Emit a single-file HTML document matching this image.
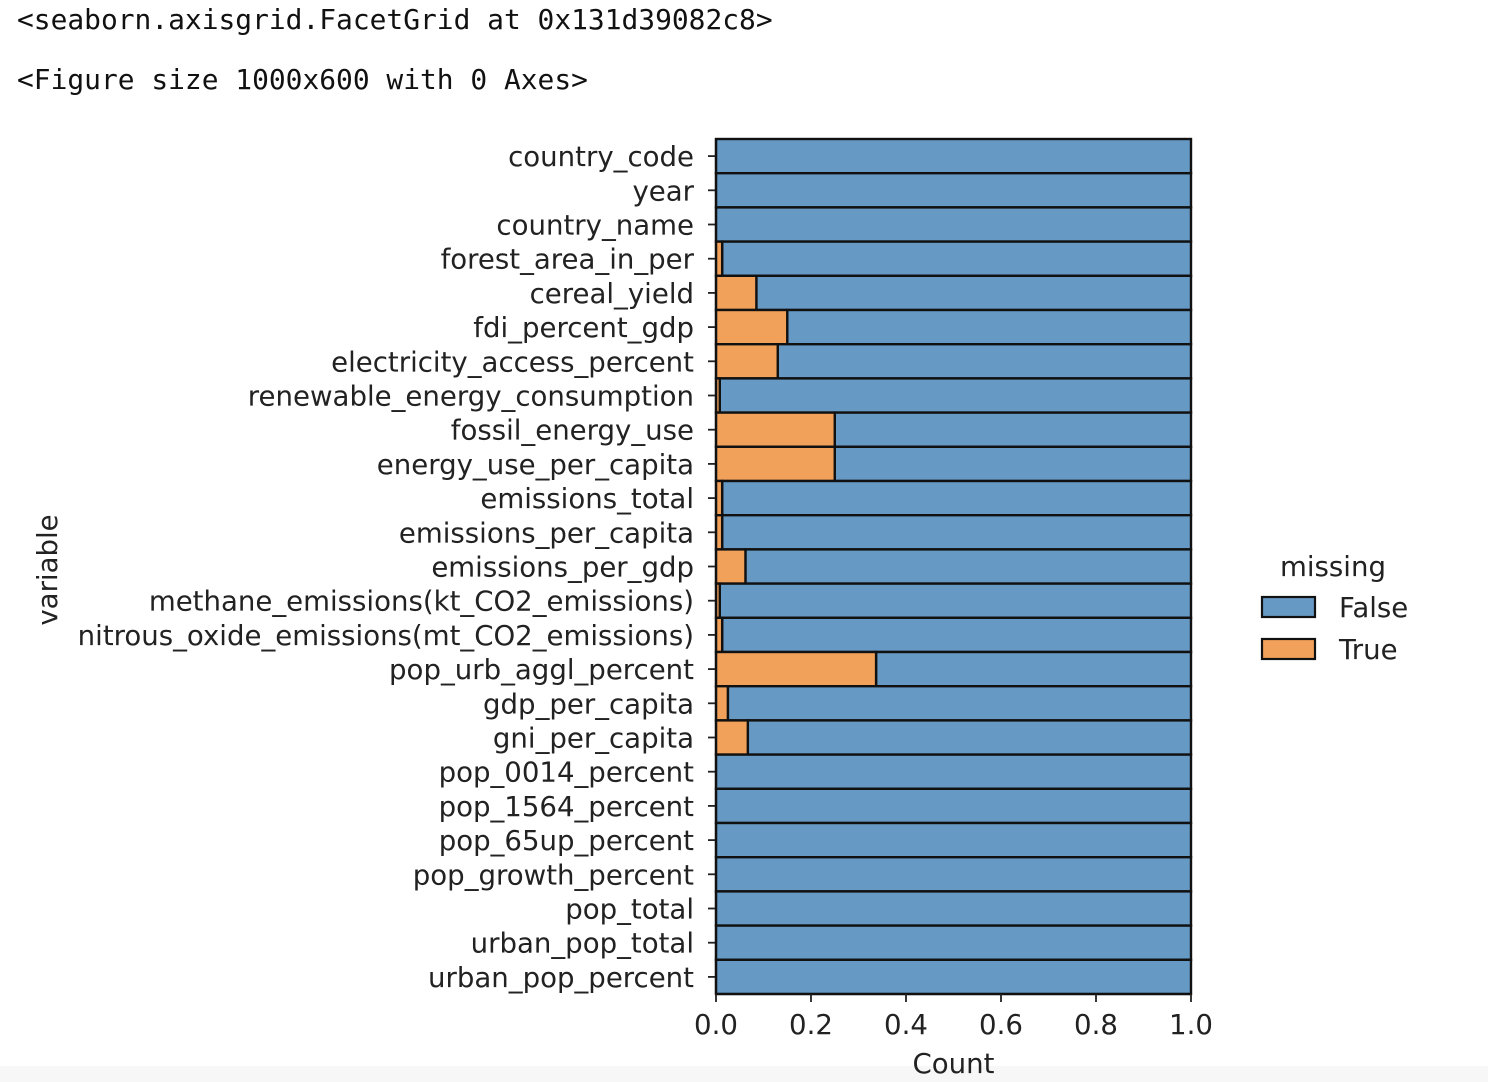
<!DOCTYPE html>
<html><head><meta charset="utf-8"><style>
body{margin:0;background:#fff;width:1488px;height:1082px;overflow:hidden;position:relative}
.mono{position:absolute;left:17px;font-family:"DejaVu Sans Mono","Liberation Mono",monospace;font-size:27.9px;color:#111;white-space:nowrap}
</style></head><body>
<div class="mono" style="top:3px">&lt;seaborn.axisgrid.FacetGrid at 0x131d39082c8&gt;</div>
<div class="mono" style="top:63px">&lt;Figure size 1000x600 with 0 Axes&gt;</div>
<div style="position:absolute;left:0;top:1066px;width:1488px;height:16px;background:#f7f7f7"></div>
<svg id="chart" width="1488" height="1082" style="position:absolute;left:0;top:0" font-family="DejaVu Sans, Liberation Sans, sans-serif"></svg>
<script>
const categories=["country_code","year","country_name","forest_area_in_per","cereal_yield","fdi_percent_gdp","electricity_access_percent","renewable_energy_consumption","fossil_energy_use","energy_use_per_capita","emissions_total","emissions_per_capita","emissions_per_gdp","methane_emissions(kt_CO2_emissions)","nitrous_oxide_emissions(mt_CO2_emissions)","pop_urb_aggl_percent","gdp_per_capita","gni_per_capita","pop_0014_percent","pop_1564_percent","pop_65up_percent","pop_growth_percent","pop_total","urban_pop_total","urban_pop_percent"];
const trueFrac=[0,0,0,0.013,0.085,0.15,0.13,0.008,0.25,0.25,0.013,0.013,0.062,0.008,0.013,0.337,0.025,0.067,0,0,0,0,0,0,0];
const xTicks=[0,0.2,0.4,0.6,0.8,1.0];
const xTickLabels=["0.0","0.2","0.4","0.6","0.8","1.0"];
const svg=document.getElementById('chart');
const NS='http://www.w3.org/2000/svg';
const X0=716,X1=1191,Y0=139,Y1=994;
const rowH=(Y1-Y0)/categories.length;
const x=v=>X0+v*(X1-X0);
const y=i=>Y0+i*rowH;
function mk(t,a){const e=document.createElementNS(NS,t);for(const k in a)e.setAttribute(k,a[k]);svg.appendChild(e);return e;}
categories.forEach((c,i)=>{
  const f=trueFrac[i];
  const b=mk('rect',{x:x(f),y:y(i),width:x(1)-x(f),height:rowH,fill:'rgb(102,153,196)',stroke:'#111','stroke-width':2.4});
  
  
  if(f>0){
    const o=mk('rect',{x:x(0),y:y(i),width:x(f)-x(0),height:rowH,fill:'rgb(241,161,90)',stroke:'#111','stroke-width':2.4});
    
    
  }
  const cy=y(i)+rowH/2;
  const tk=mk('line',{x1:X0-8,x2:X0,y1:cy,y2:cy,stroke:'#222','stroke-width':1.8});
  
  
  const t=mk('text',{x:X0-22,y:cy+10,'text-anchor':'end','font-size':27.6,fill:'#222'});
  t.textContent=c;
  
  
});
const ax=mk('line',{x1:X0,x2:X1,y1:Y1,y2:Y1,stroke:'#111','stroke-width':2.2});


const ay=mk('line',{x1:X0,x2:X0,y1:Y0,y2:Y1,stroke:'#111','stroke-width':2.2});


xTicks.forEach((v,i)=>{
  const l=mk('line',{x1:x(v),x2:x(v),y1:Y1,y2:Y1+8,stroke:'#222','stroke-width':1.8});
  
  
  const t=mk('text',{x:x(v),y:Y1+40,'text-anchor':'middle','font-size':27.6,fill:'#222'});
  t.textContent=xTickLabels[i];
  
  
});
const xt=mk('text',{x:(X0+X1)/2,y:1073,'text-anchor':'middle','font-size':27.6,fill:'#222'});
xt.textContent='Count';


const yt=mk('text',{x:57,y:570,'text-anchor':'middle','font-size':27.6,fill:'#222',transform:'rotate(-90 57 570)'});
yt.textContent='variable';


const lt=mk('text',{x:1333,y:576,'text-anchor':'middle','font-size':27.6,fill:'#222'});
lt.textContent='missing';


[['False','rgb(102,153,196)',597],['True','rgb(241,161,90)',639]].forEach(([n,col,yy])=>{
  const r=mk('rect',{x:1262,y:yy,width:53,height:20,fill:col,stroke:'#111','stroke-width':2.2});
  
  
  const t=mk('text',{x:1339,y:yy+20,'font-size':27.6,fill:'#222'});
  t.textContent=n;
  
  
});
</script>
</body></html>
